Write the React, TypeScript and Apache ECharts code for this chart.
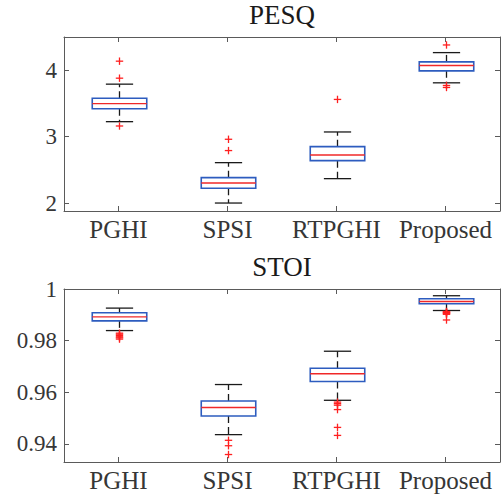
import React, { useEffect, useRef } from "react";
import * as echarts from "echarts";

const categories = ["PGHI", "SPSI", "RTPGHI", "Proposed"];

// [lower whisker, Q1, median, Q3, upper whisker]
const pesqStats = [
  [3.225, 3.42, 3.497, 3.578, 3.79],
  [2.0, 2.222, 2.302, 2.382, 2.608],
  [2.367, 2.638, 2.724, 2.849, 3.07],
  [3.81, 3.99, 4.07, 4.125, 4.265],
];
const pesqOutliers = [
  [4.136, 3.88, 3.16],
  [2.96, 2.79],
  [3.56],
  [4.38, 3.77, 3.74],
];

const stoiStats = [
  [0.9839, 0.98767, 0.98922, 0.99078, 0.9926],
  [0.9436, 0.9508, 0.9541, 0.95665, 0.963],
  [0.9569, 0.9642, 0.9672, 0.9693, 0.9759],
  [0.99167, 0.99428, 0.99518, 0.99622, 0.99739],
];
const stoiOutliers = [
  [0.9829, 0.9825, 0.982, 0.9815, 0.9811, 0.9806],
  [0.9414, 0.9393, 0.9359],
  [0.9562, 0.9556, 0.955, 0.9533, 0.9464, 0.9433],
  [0.9913, 0.9911, 0.9909, 0.9907, 0.9905, 0.9902, 0.988],
];

const pesqTicks = [2, 3, 4];
const stoiTicks = [0.94, 0.96, 0.98, 1];

const AXIS_COLOR = "#5a5a5a";
const TEXT_COLOR = "#363636";
const BOX_COLOR = "#2d5cbf";
const MEDIAN_COLOR = "#f02828";
const WHISKER_COLOR = "#1a1a1a";
const FONT = "'Liberation Serif', 'Times New Roman', serif";

function boxRender(params: any, api: any) {
  const x = api.value(0);
  const lw = api.value(1);
  const q1 = api.value(2);
  const med = api.value(3);
  const q3 = api.value(4);
  const uw = api.value(5);
  const band = api.size([1, 0])[0];
  const bw = band * 0.5;
  const cw = band * 0.25;
  const pLw = api.coord([x, lw]);
  const pQ1 = api.coord([x, q1]);
  const pMed = api.coord([x, med]);
  const pQ3 = api.coord([x, q3]);
  const pUw = api.coord([x, uw]);
  const cx = Math.round(pMed[0]) + 0.5;
  const wStyle = { stroke: WHISKER_COLOR, lineWidth: 1.3, lineDash: [7, 4] };
  const cStyle = { stroke: WHISKER_COLOR, lineWidth: 1.3 };
  return {
    type: "group",
    children: [
      { type: "line", shape: { x1: cx, y1: pQ3[1], x2: cx, y2: pUw[1] }, style: wStyle },
      { type: "line", shape: { x1: cx, y1: pQ1[1], x2: cx, y2: pLw[1] }, style: wStyle },
      { type: "line", shape: { x1: cx - cw / 2, y1: pUw[1], x2: cx + cw / 2, y2: pUw[1] }, style: cStyle },
      { type: "line", shape: { x1: cx - cw / 2, y1: pLw[1], x2: cx + cw / 2, y2: pLw[1] }, style: cStyle },
      {
        type: "rect",
        shape: { x: cx - bw / 2, y: pQ3[1], width: bw, height: pQ1[1] - pQ3[1] },
        style: { fill: "none", stroke: BOX_COLOR, lineWidth: 1.6 },
      },
      {
        type: "line",
        shape: { x1: cx - bw / 2, y1: pMed[1], x2: cx + bw / 2, y2: pMed[1] },
        style: { stroke: MEDIAN_COLOR, lineWidth: 1.4 },
      },
    ],
  };
}

function outlierRender(params: any, api: any) {
  const p = api.coord([api.value(0), api.value(1)]);
  const h = 3.7;
  const x = Math.round(p[0]) + 0.5;
  const y = p[1];
  const st = { stroke: "#ff2020", lineWidth: 1.3 };
  return {
    type: "group",
    children: [
      { type: "line", shape: { x1: x - h, y1: y, x2: x + h, y2: y }, style: st },
      { type: "line", shape: { x1: x, y1: y - h, x2: x, y2: y + h }, style: st },
    ],
  };
}

function boxData(stats: number[][]) {
  return stats.map((s, i) => [i, ...s]);
}
function outData(outs: number[][]) {
  const r: number[][] = [];
  outs.forEach((arr, i) => arr.forEach((v) => r.push([i, v])));
  return r;
}

function xAxes(gridIndex: number) {
  const base = {
    gridIndex,
    type: "category",
    data: categories,
    boundaryGap: true,
    axisLine: { show: true, lineStyle: { color: AXIS_COLOR, width: 1 } },
    axisTick: { show: true, inside: true, alignWithLabel: true, length: 5, interval: 0, lineStyle: { color: AXIS_COLOR } },
    splitLine: { show: false },
  };
  return [
    {
      ...base,
      position: "bottom",
      axisLabel: { show: true, interval: 0, margin: 6, color: TEXT_COLOR, fontFamily: FONT, fontSize: 25 },
    },
    { ...base, position: "top", axisLabel: { show: false } },
  ];
}

function yAxes(gridIndex: number, min: number, max: number, ticks: number[]) {
  const base = {
    gridIndex,
    type: "value",
    min,
    max,
    axisLine: { show: true, lineStyle: { color: AXIS_COLOR, width: 1 } },
    axisTick: { show: true, inside: true, length: 5, customValues: ticks, lineStyle: { color: AXIS_COLOR } },
    splitLine: { show: false },
  };
  return [
    {
      ...base,
      position: "left",
      axisLabel: {
        show: true,
        margin: 7,
        customValues: ticks,
        color: TEXT_COLOR,
        fontFamily: FONT,
        fontSize: 23,
        formatter: (v: number) => String(Number(v.toFixed(4))),
      },
    },
    { ...base, position: "right", axisLabel: { show: false, customValues: ticks } },
  ];
}

export default function App() {
  const ref = useRef<HTMLDivElement>(null);
  useEffect(() => {
    document.body.style.margin = "0";
    const chart = echarts.init(ref.current!, null, { renderer: "svg" });
    chart.setOption({
      animation: false,
      backgroundColor: "#ffffff",
      grid: [
        { left: 64, right: 3, top: 37, height: 174, containLabel: false },
        { left: 64, right: 3, top: 289, height: 173, containLabel: false },
      ],
      xAxis: [...xAxes(0), ...xAxes(1)],
      yAxis: [...yAxes(0, 1.88, 4.5, pesqTicks), ...yAxes(1, 0.933, 1, stoiTicks)],
      graphic: [
        {
          type: "text",
          x: 282,
          y: 15,
          style: { text: "PESQ", textAlign: "center", textVerticalAlign: "middle", fill: "#1a1a1a", font: `27px ${FONT}` },
        },
        {
          type: "text",
          x: 282,
          y: 267,
          style: { text: "STOI", textAlign: "center", textVerticalAlign: "middle", fill: "#1a1a1a", font: `27px ${FONT}` },
        },
      ],
      series: [
        { type: "custom", xAxisIndex: 0, yAxisIndex: 0, renderItem: boxRender, data: boxData(pesqStats), encode: { x: 0, y: [1, 2, 3, 4, 5] } },
        { type: "custom", xAxisIndex: 0, yAxisIndex: 0, renderItem: outlierRender, data: outData(pesqOutliers), encode: { x: 0, y: 1 } },
        { type: "custom", xAxisIndex: 2, yAxisIndex: 2, renderItem: boxRender, data: boxData(stoiStats), encode: { x: 0, y: [1, 2, 3, 4, 5] } },
        { type: "custom", xAxisIndex: 2, yAxisIndex: 2, renderItem: outlierRender, data: outData(stoiOutliers), encode: { x: 0, y: 1 } },
      ],
    });
    return () => chart.dispose();
  }, []);
  return <div ref={ref} style={{ width: 503, height: 497 }} />;
}
